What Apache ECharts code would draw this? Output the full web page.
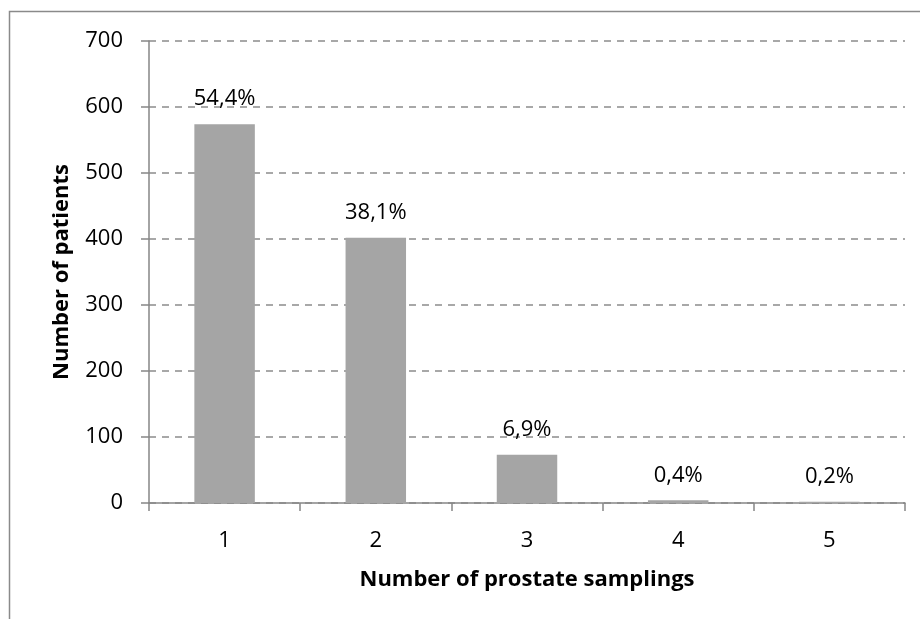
<!DOCTYPE html>
<html>
<head>
<meta charset="utf-8">
<script src="https://cdn.jsdelivr.net/npm/echarts@6/dist/echarts.min.js"></script>
<style>
  html, body { margin: 0; padding: 0; background: #fff; }
  #chart { width: 920px; height: 619px; }
</style>
</head>
<body>
<div id="chart"></div>
<script>
// Number of prostate samplings per patient
const samplings = ['1', '2', '3', '4', '5'];
const patients = [574, 402, 73, 4, 2];
const shareLabels = ['54,4%', '38,1%', '6,9%', '0,4%', '0,2%'];
const yTicks = { min: 0, max: 700, step: 100 };

const FONT = '"Open Sans", "Liberation Sans", sans-serif';
const AXIS_GREY = '#868686';

const chart = echarts.init(document.getElementById('chart'), null, { renderer: 'canvas' });

chart.setOption({
  animation: false,
  backgroundColor: '#ffffff',
  graphic: [{
    type: 'rect',
    shape: { x: 9.5, y: 11.5, width: 940, height: 640 },
    style: { fill: 'none', stroke: '#8a8a8a', lineWidth: 1.5 },
    silent: true,
    z: -1
  }],
  grid: { left: 149, right: 15, top: 41, bottom: 116, containLabel: false },
  xAxis: {
    type: 'category',
    data: samplings,
    boundaryGap: true,
    name: 'Number of prostate samplings',
    nameLocation: 'middle',
    nameGap: 66,
    nameTextStyle: { fontFamily: FONT, fontSize: 22, fontWeight: 'bold', color: '#000' },
    axisLine: { lineStyle: { color: AXIS_GREY, width: 1.5 } },
    axisTick: { show: true, length: 8, alignWithLabel: false, lineStyle: { color: AXIS_GREY, width: 1.5 } },
    axisLabel: { fontFamily: FONT, fontSize: 22, color: '#000', margin: 27 },
    splitLine: { show: false }
  },
  yAxis: {
    type: 'value',
    min: yTicks.min,
    max: yTicks.max,
    interval: yTicks.step,
    name: 'Number of patients',
    nameLocation: 'middle',
    nameGap: 76,
    nameRotate: 90,
    nameTextStyle: { fontFamily: FONT, fontSize: 22, fontWeight: 'bold', color: '#000' },
    axisLine: { show: true, lineStyle: { color: AXIS_GREY, width: 1.5 } },
    axisTick: { show: true, length: 8, lineStyle: { color: AXIS_GREY, width: 1.5 } },
    axisLabel: { fontFamily: FONT, fontSize: 22, color: '#000', margin: 26 },
    splitLine: { show: true, lineStyle: { color: '#8c8c8c', width: 1.5, type: [7, 6] } }
  },
  series: [{
    type: 'bar',
    data: patients,
    barCategoryGap: '60%',
    itemStyle: { color: '#a5a5a5' },
    label: {
      show: true,
      position: 'top',
      distance: 14,
      fontFamily: FONT,
      fontSize: 22,
      color: '#000',
      formatter: (p) => shareLabels[p.dataIndex]
    }
  }]
});
</script>
</body>
</html>
